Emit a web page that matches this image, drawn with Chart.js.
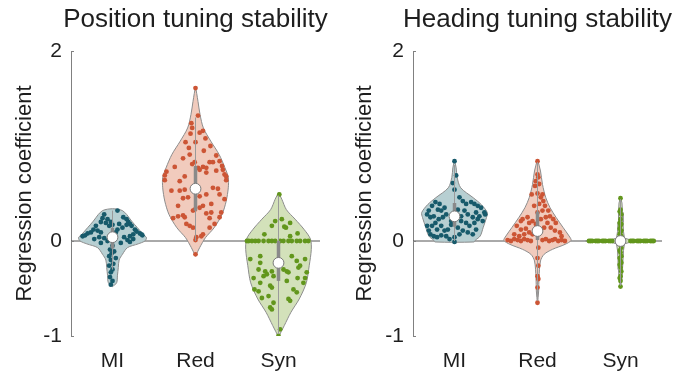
<!DOCTYPE html>
<html>
<head>
<meta charset="utf-8">
<script src="https://cdn.jsdelivr.net/npm/chart.js@4.4.0/dist/chart.umd.min.js"></script>
<style>
  html, body { margin: 0; padding: 0; background: #fff; overflow: hidden; }
  .panel { position: absolute; top: 0; height: 372px; }
  #izq { left: 0; width: 345px; }
  #der { left: 345px; width: 344px; }
</style>
</head>
<body>
<div class="panel" id="izq"><canvas id="graficoPos"></canvas></div>
<div class="panel" id="der"><canvas id="graficoHead"></canvas></div>
<script>
// Datos generales
const categorias = ['MI', 'Red', 'Syn'];
const yTicks = [-1, 0, 2];
const titulos = ['Position tuning stability', 'Heading tuning stability'];
const tituloY = 'Regression coefficient';

// ---- Panel izquierdo: position ----
const posMIVals = [0.32, 0.28, 0.24, 0.23, 0.20, 0.19, 0.20, 0.25, 0.23, 0.20, 0.18, 0.17, 0.16, 0.16, 0.17, 0.12, 0.18, 0.14, 0.09, 0.16,
  0.12, 0.09, 0.08, 0.06, 0.05, 0.11, 0.09, 0.12, 0.10, 0.08, 0.07, 0.06, 0.07, 0.05, 0.02, 0.04, 0.03, 0.00, -0.02, 0.04,
  0.01, -0.01, -0.02, 0.02, -0.05, -0.09, -0.11, -0.13, -0.16, -0.18, -0.20, -0.24, -0.26, -0.30, -0.33, -0.38, -0.42, -0.46];
const posMIJit = [0.06, -0.10, -0.12, -0.06, -0.14, -0.08, -0.02, 0.13, 0.17, 0.19, 0.21, 0.17, 0.23, -0.04, 0.00, 0.06, 0.08, 0.12, 0.04, -0.20,
  -0.23, -0.26, -0.30, -0.33, -0.36, -0.18, -0.14, 0.27, 0.29, 0.33, 0.35, 0.36, 0.25, 0.21, -0.22, -0.16, -0.10, -0.06, -0.14, 0.14,
  0.18, 0.21, 0.10, 0.25, 0.00, -0.03, 0.02, -0.01, -0.04, 0.04, -0.02, 0.01, -0.04, 0.00, -0.02, -0.03, 0.00, -0.02];

const posRedVals = [1.61, 1.32, 1.24, 1.19, 1.13, 1.14, 1.16, 1.04, 1.04, 0.95, 0.87, 0.91, 0.78, 0.73, 0.69, 0.64, 0.83, 0.81, 0.77, 0.78,
  0.77, 0.83, 0.83, 0.90, 0.84, 0.75, 0.70, 0.68, 0.64, 0.79, 0.74, 0.72, 0.75, 0.68, 0.63, 0.53, 0.53, 0.54, 0.45, 0.46,
  0.47, 0.49, 0.56, 0.55, 0.49, 0.44, 0.39, 0.37, 0.35, 0.33, 0.32, 0.37, 0.24, 0.26, 0.27, 0.25, 0.18, 0.16, 0.14, 0.29,
  0.24, 0.30, 0.30, 0.25, 0.18, 0.07, 0.05, 0.04, 0.14, 0.01, -0.14, 1.08, 0.98, 1.00];
const posRedJit = [0.00, 0.03, -0.05, -0.04, -0.06, 0.05, 0.09, -0.12, 0.00, 0.10, -0.15, -0.07, -0.25, -0.35, -0.37, -0.37, -0.01, -0.04, 0.03, 0.09,
  0.13, 0.17, 0.21, 0.25, 0.29, 0.33, 0.35, 0.37, 0.37, 0.32, 0.25, 0.13, 0.05, -0.13, -0.19, -0.29, -0.19, -0.13, -0.15, -0.09,
  0.05, 0.13, 0.21, 0.27, 0.29, 0.35, 0.19, 0.09, 0.05, -0.01, -0.03, -0.21, -0.27, -0.21, -0.15, -0.13, -0.11, -0.07, -0.03, 0.13,
  0.17, 0.19, 0.31, 0.29, 0.23, 0.09, 0.07, 0.01, 0.17, 0.00, 0.00, 0.12, -0.08, 0.18];

const posSynVals = [0.49, 0.21, 0.23, 0.16, 0.15, 0.14, 0.05, 0.08, 0.07, 0.19,
  0, 0, 0, 0, 0, 0, 0, 0, 0, 0, 0, 0, 0, 0, 0, 0, 0,
  -0.19, -0.16, -0.23, -0.30, -0.32, -0.35, -0.37, -0.32, -0.37, -0.30, -0.32, -0.33, -0.16, -0.21, -0.28, -0.26, -0.19, -0.33, -0.39, -0.44,
  -0.39, -0.39, -0.51, -0.44, -0.47, -0.49, -0.58, -0.60, -0.53, -0.65, -0.70, -0.72, -0.42, -0.61, -0.63, -0.51, -0.54, -0.93, -1.00];
const posSynJit = [0.01, -0.04, 0.04, -0.08, 0.07, 0.09, 0.14, 0.23, -0.17, 0.14,
  -0.38, -0.36, -0.32, -0.28, -0.24, -0.18, -0.12, -0.08, -0.04, 0.02, 0.06, 0.12, 0.16, 0.22, 0.26, 0.32, 0.36,
  -0.34, -0.22, -0.22, -0.24, -0.16, -0.14, -0.18, -0.08, -0.06, 0.06, 0.10, 0.12, 0.16, 0.22, 0.24, 0.26, 0.32, 0.34, 0.32, 0.30,
  0.23, -0.30, -0.29, -0.22, -0.10, -0.08, -0.12, -0.20, -0.24, -0.06, -0.10, -0.08, 0.10, 0.12, 0.14, 0.18, 0.22, 0.02, 0.00];

// contorno de los violines (valor, semiancho en unidades de categoría)
const posMIFormaY = [0.34, 0.335, 0.32, 0.28, 0.21, 0.14, 0.07, 0.035, 0.0, -0.03, -0.07, -0.14, -0.20, -0.28, -0.36, -0.44, -0.48];
const posMIFormaW = [0, 0.06, 0.12, 0.17, 0.23, 0.30, 0.37, 0.41, 0.39, 0.31, 0.18, 0.12, 0.08, 0.07, 0.06, 0.05, 0];
const posRedFormaY = [1.63, 1.47, 1.33, 1.19, 1.05, 0.91, 0.77, 0.67, 0.56, 0.42, 0.28, 0.14, 0.035, -0.07, -0.16];
const posRedFormaW = [0, 0.03, 0.055, 0.095, 0.185, 0.285, 0.355, 0.395, 0.395, 0.37, 0.32, 0.225, 0.12, 0.05, 0];
const posSynFormaY = [0.51, 0.44, 0.33, 0.23, 0.12, 0.02, -0.09, -0.26, -0.44, -0.61, -0.75, -0.89, -1.01];
const posSynFormaW = [0, 0.04, 0.095, 0.2, 0.31, 0.385, 0.395, 0.37, 0.335, 0.25, 0.15, 0.07, 0];

const posMedianas = [0.04, 0.55, -0.23];
const posIQR = [[-0.08, 0.14], [0.32, 0.79], [-0.42, 0.0]];
const posBigotes = [[-0.30, 0.32], [0.0, 1.30], [-0.98, 0.48]];

// ---- Panel derecho: heading ----
const hdMIVals = [0.84, 0.69, 0.61, 0.54, 0.41, 0.39, 0.37, 0.32, 0.28, 0.25, 0.26, 0.33, 0.32, 0.35, 0.28, 0.25, 0.23, 0.19, 0.16, 0.12,
  0.16, 0.11, 0.12, 0.17, 0.21, 0.46, 0.42, 0.39, 0.41, 0.39, 0.37, 0.35, 0.30, 0.28, 0.26, 0.30, 0.25, 0.28, 0.32, 0.26,
  0.33, 0.21, 0.19, 0.16, 0.19, 0.23, 0.21, 0.14, 0.11, 0.09, 0.07, 0.12, 0.07, 0.04, -0.01, 0.16, 0.11, 0.07, 0.05, 0.04,
  0.06, 0.05, 0.02];
const hdMIJit = [0.00, 0.02, -0.02, 0.00, -0.23, -0.18, -0.27, -0.31, -0.33, -0.29, -0.25, -0.20, -0.16, -0.12, -0.10, -0.14, -0.19, -0.23, -0.27, -0.21,
  -0.16, -0.12, -0.08, -0.04, -0.04, 0.06, 0.10, 0.14, 0.20, 0.24, 0.28, 0.32, 0.36, 0.37, 0.30, 0.26, 0.22, 0.16, 0.12, 0.08,
  0.04, 0.08, 0.14, 0.18, 0.24, 0.28, 0.34, 0.04, 0.10, 0.16, 0.22, 0.26, 0.06, 0.00, 0.00, -0.33, -0.31, -0.29, -0.25, -0.21,
  -0.16, -0.10, -0.06];

const hdRedVals = [0.84, 0.70, 0.67, 0.63, 0.60, 0.58, 0.49, 0.50, 0.49, 0.46, 0.42, 0.39, 0.37, 0.37, 0.32, 0.32, 0.30, 0.25, 0.23, 0.21,
  0.19, 0.21, 0.18, 0.23, 0.25, 0.26, 0.23, 0.19, 0.19, 0.14, 0.14, 0.11, 0.09, 0.05, 0.16, 0.12, 0.13, 0.07, 0.05, 0.07,
  0.09, 0.07, 0.01, 0.00, 0.02, 0.01, 0.00, 0.02, 0.01, 0.00, 0.01, 0.02, 0.00, 0.01, 0.02, 0.00, 0.01, 0.00,
  -0.07, -0.18, -0.26, -0.37, -0.40, -0.49, -0.65];
const hdRedJit = [0.00, 0.00, 0.01, -0.02, 0.02, -0.03, -0.07, 0.00, 0.06, 0.04, 0.07, 0.02, -0.04, 0.09, 0.13, 0.06, 0.00, -0.12, -0.18, -0.20,
  -0.10, -0.06, -0.02, 0.04, 0.10, 0.15, 0.19, 0.22, 0.12, 0.08, 0.16, 0.21, 0.27, 0.29, -0.25, -0.20, -0.14, -0.28, -0.22, -0.16,
  -0.10, -0.06, -0.36, -0.32, -0.28, -0.24, -0.20, -0.16, -0.12, -0.08, 0.06, 0.10, 0.14, 0.18, 0.21, 0.25, 0.29, 0.33,
  0.01, 0.00, 0.01, 0.00, 0.01, 0.00, 0.00];

const hdSynVals = [0.45, 0.33, 0.31, 0.28, 0.23, 0.19, 0.18, 0.16, 0.13, 0.11, 0.09, 0.07, 0.05, 0.03, 0.02,
  -0.02, -0.04, -0.07, -0.10, -0.12, -0.16, -0.18, -0.21, -0.23, -0.25, -0.28, -0.32, -0.37, -0.39, -0.42, -0.48,
  0, 0, 0, 0, 0, 0, 0, 0, 0, 0, 0, 0, 0, 0, 0, 0, 0, 0, 0, 0, 0, 0, 0, 0];
const hdSynJit = [0.00, 0.00, -0.01, 0.01, 0.00, -0.01, 0.01, 0.00, -0.01, 0.01, 0.00, -0.01, 0.01, 0.00, -0.01,
  0.01, 0.00, 0.01, -0.01, 0.00, 0.01, -0.01, 0.00, 0.01, -0.01, 0.00, 0.01, 0.00, -0.01, 0.00, 0.00,
  -0.38, -0.36, -0.34, -0.30, -0.28, -0.26, -0.22, -0.20, -0.18, -0.14, -0.12, -0.10,
  0.12, 0.14, 0.16, 0.20, 0.22, 0.24, 0.28, 0.30, 0.32, 0.36, 0.38, 0.40];

const hdMIFormaY = [0.85, 0.77, 0.67, 0.56, 0.456, 0.386, 0.30, 0.246, 0.14, 0.053, 0.007, -0.01];
const hdMIFormaW = [0, 0.02, 0.032, 0.075, 0.225, 0.32, 0.395, 0.385, 0.345, 0.31, 0.25, 0.235];
const hdRedFormaY = [0.86, 0.737, 0.596, 0.456, 0.35, 0.246, 0.14, 0.053, 0.007, -0.035, -0.088, -0.14, -0.21, -0.386, -0.526, -0.66];
const hdRedFormaW = [0, 0.036, 0.06, 0.1, 0.152, 0.226, 0.31, 0.38, 0.405, 0.333, 0.18, 0.08, 0.036, 0.018, 0.014, 0];
const hdSynFormaY = [0.46, 0.40, 0.30, 0.20, 0.10, 0.03, 0.012, 0.004, -0.004, -0.012, -0.03, -0.10, -0.20, -0.30, -0.40, -0.49];
const hdSynFormaW = [0, 0.018, 0.024, 0.03, 0.036, 0.048, 0.12, 0.42, 0.42, 0.12, 0.048, 0.036, 0.03, 0.024, 0.018, 0];

const hdMedianas = [0.26, 0.105, 0.0];
const hdIQR = [[0.15, 0.40], [0.01, 0.31], [0.0, 0.0]];
const hdBigotes = [[0.0, 0.80], [-0.63, 0.83], [-0.47, 0.44]];

// Colores
const colorPunto = ['#175a6b', '#cc5535', '#62961c'];
const colorRelleno = ['#b7cfd2', '#f1cbbd', '#d3e1ba'];
const colorGris = '#8c8c8c';
const colorTexto = '#1e1e1e';

Chart.defaults.font.family = '"Liberation Sans", Arial, Helvetica, sans-serif';
Chart.defaults.color = colorTexto;

// contorno cerrado del violin: lado derecho de arriba a abajo y luego el izquierdo de vuelta
function contorno(cx, ys, ws) {
    const der = ys.map((y, k) => ({ x: cx + ws[k], y: y }));
    const izq = ys.map((y, k) => ({ x: cx - ws[k], y: y })).reverse();
    return der.concat(izq);
}

// Titulo del panel y marcas cortas del eje Y hacia dentro
const decoracion = {
    id: 'decoracion',
    afterDraw(chart, args, opts) {
        const { ctx, chartArea, scales } = chart;
        ctx.save();
        ctx.fillStyle = colorTexto;
        ctx.font = '26px "Liberation Sans", Arial, sans-serif';
        ctx.textAlign = 'center';
        ctx.textBaseline = 'alphabetic';
        ctx.fillText(opts.titulo, (chartArea.left + chartArea.right) / 2, 27);
        ctx.strokeStyle = '#808080';
        ctx.lineWidth = 1;
        yTicks.forEach(t => {
            const py = Math.round(scales.y.getPixelForValue(t)) + 0.5;
            ctx.beginPath();
            ctx.moveTo(chartArea.left, py);
            ctx.lineTo(chartArea.left + 3, py);
            ctx.stroke();
        });
        ctx.restore();
    }
};

function crearPanel(canvasId, titulo, valores, jitters, formasY, formasW, medianas, iqr, bigotes, padIzq, anchoEjeY, padDer) {
    const datasets = [];

    // linea de cero
    datasets.push({
        type: 'line',
        data: [{ x: 0.5, y: 0 }, { x: 3.5, y: 0 }],
        borderColor: '#555555',
        borderWidth: 1,
        pointRadius: 0,
        order: 10
    });

    categorias.forEach((cat, i) => {
        const cx = i + 1;
        // violin
        datasets.push({
            type: 'line',
            data: contorno(cx, formasY[i], formasW[i]),
            fill: 'shape',
            backgroundColor: colorRelleno[i],
            borderColor: colorGris,
            borderWidth: 1,
            pointRadius: 0,
            tension: cat === 'Syn' && canvasId === 'graficoHead' ? 0 : 0.3,
            order: 8
        });
        // puntos individuales
        datasets.push({
            type: 'scatter',
            data: valores[i].map((v, k) => ({ x: cx + jitters[i][k], y: v })),
            backgroundColor: colorPunto[i],
            borderWidth: 0,
            pointRadius: 2.4,
            order: 6
        });
        // bigotes
        datasets.push({
            type: 'line',
            data: [{ x: cx, y: bigotes[i][0] }, { x: cx, y: bigotes[i][1] }],
            borderColor: '#9a9a9a',
            borderWidth: 1,
            pointRadius: 0,
            order: 5
        });
        // caja (rango intercuartil)
        datasets.push({
            type: 'line',
            data: [{ x: cx, y: iqr[i][0] }, { x: cx, y: iqr[i][1] }],
            borderColor: '#8a8a8a',
            borderWidth: 3.5,
            pointRadius: 0,
            order: 4
        });
        // mediana
        datasets.push({
            type: 'scatter',
            data: [{ x: cx, y: medianas[i] }],
            backgroundColor: '#ffffff',
            borderColor: '#7a7a7a',
            borderWidth: 1,
            pointRadius: 5.4,
            order: 1
        });
    });

    new Chart(document.getElementById(canvasId), {
        type: 'scatter',
        data: { datasets: datasets },
        options: {
            responsive: true,
            maintainAspectRatio: false,
            animation: false,
            events: [],
            layout: { padding: { left: padIzq, right: padDer, top: 51, bottom: 0 } },
            plugins: {
                legend: { display: false },
                tooltip: { enabled: false },
                decoracion: { titulo: titulo }
            },
            scales: {
                x: {
                    type: 'linear',
                    min: 0.5,
                    max: 3.5,
                    grid: { display: false, drawTicks: false },
                    border: { display: false },
                    afterBuildTicks: s => { s.ticks = categorias.map((c, k) => ({ value: k + 1 })); },
                    afterFit: s => { s.height = 36; },
                    ticks: {
                        padding: 13,
                        font: { size: 21 },
                        color: colorTexto,
                        callback: v => categorias[Math.round(v) - 1]
                    }
                },
                y: {
                    type: 'linear',
                    min: -1,
                    max: 2,
                    grid: { display: false, drawTicks: false },
                    border: { display: true, color: '#808080', width: 1 },
                    afterBuildTicks: s => { s.ticks = yTicks.map(v => ({ value: v })); },
                    afterFit: s => { s.width = anchoEjeY; },
                    ticks: { padding: 9, font: { size: 21 }, color: colorTexto },
                    title: {
                        display: true,
                        text: tituloY,
                        font: { size: 22 },
                        color: colorTexto,
                        padding: 0
                    }
                }
            }
        },
        plugins: [decoracion]
    });
}

crearPanel('graficoPos', titulos[0],
    [posMIVals, posRedVals, posSynVals], [posMIJit, posRedJit, posSynJit],
    [posMIFormaY, posRedFormaY, posSynFormaY], [posMIFormaW, posRedFormaW, posSynFormaW],
    posMedianas, posIQR, posBigotes, 12, 59, 25);

crearPanel('graficoHead', titulos[1],
    [hdMIVals, hdRedVals, hdSynVals], [hdMIJit, hdRedJit, hdSynJit],
    [hdMIFormaY, hdRedFormaY, hdSynFormaY], [hdMIFormaW, hdRedFormaW, hdSynFormaW],
    hdMedianas, hdIQR, hdBigotes, 7, 61, 27);
</script>
</body>
</html>
